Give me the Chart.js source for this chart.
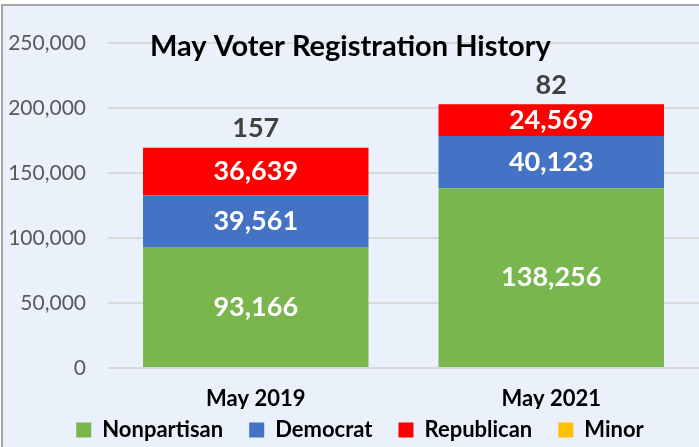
<!DOCTYPE html>
<html>
<head>
<meta charset="utf-8">
<script src="https://cdn.jsdelivr.net/npm/chart.js@4.4.1/dist/chart.umd.min.js"></script>
<style>
    html, body { margin: 0; padding: 0; background: #ffffff; }
    #frame {
        position: absolute; left: 1px; top: 4px;
        width: 696px; height: 443px;
        background: #EAF1FA;
        border-left: 2px solid #A6A6A6;
        border-top: 2px solid #A6A6A6;
    }
    #chart { display: block; }
</style>
</head>
<body>
<div id="frame"><canvas id="chart" width="696" height="441"></canvas></div>
<script>
// Données du graphique
const categories = ['May 2019', 'May 2021'];
const nonpartisan = [93166, 138256];
const democrat = [39561, 40123];
const republican = [36639, 24569];
const minor = [157, 82];
const yTicks = [0, 50000, 100000, 150000, 200000, 250000];

const FONT = 'Lato, "Open Sans", sans-serif';

// Étiquettes de valeurs dans / au-dessus des barres
const valueLabels = {
    id: 'valueLabels',
    afterDatasetsDraw(chart) {
        const ctx = chart.ctx;
        ctx.save();
        ctx.textAlign = 'center';
        ctx.textBaseline = 'middle';
        chart.data.datasets.forEach((ds, i) => {
            const meta = chart.getDatasetMeta(i);
            meta.data.forEach((bar, j) => {
                const text = ds.data[j].toLocaleString('en-US');
                ctx.font = 'bold 27px ' + FONT;
                if (ds.label === 'Minor') {
                    ctx.fillStyle = '#404040';
                    ctx.fillText(text, bar.x, bar.y - 19);
                } else {
                    ctx.fillStyle = '#ffffff';
                    ctx.fillText(text, bar.x, (bar.y + bar.base) / 2);
                }
            });
        });
        ctx.restore();
    }
};

// Titre dessiné dans la zone du graphique
const innerTitle = {
    id: 'innerTitle',
    afterDraw(chart) {
        const ctx = chart.ctx;
        ctx.save();
        ctx.font = 'bold 29px ' + FONT;
        ctx.fillStyle = '#000000';
        ctx.textAlign = 'left';
        ctx.textBaseline = 'middle';
        ctx.fillText('May Voter Registration History', 147, 41);
        ctx.restore();
    }
};

// Décaler la légende un peu vers la droite
const legendShift = {
    id: 'legendShift',
    afterLayout(chart) {
        if (chart.legend) {
            chart.legend.left += 9;
            chart.legend.right += 9;
        }
    }
};

const ctx = document.getElementById('chart').getContext('2d');
new Chart(ctx, {
    type: 'bar',
    data: {
        labels: categories,
        datasets: [
            { label: 'Nonpartisan', data: nonpartisan, backgroundColor: '#7AB64E' },
            { label: 'Democrat', data: democrat, backgroundColor: '#4472C4' },
            { label: 'Republican', data: republican, backgroundColor: '#FF0000' },
            { label: 'Minor', data: minor, backgroundColor: '#FFC000' }
        ]
    },
    options: {
        responsive: false,
        animation: false,
        datasets: {
            bar: { categoryPercentage: 1, barPercentage: 0.763 }
        },
        layout: { padding: { top: 37, right: 0, left: 0, bottom: -4 } },
        scales: {
            x: {
                stacked: true,
                grid: { display: false },
                border: { display: false },
                afterFit(axis) { axis.height = 41; },
                ticks: {
                    color: '#000000',
                    font: { family: FONT, size: 22, weight: 'bold', lineHeight: 1 },
                    padding: 12
                }
            },
            y: {
                stacked: true,
                min: 0,
                max: 250000,
                afterBuildTicks(axis) {
                    axis.ticks = yTicks.map(v => ({ value: v }));
                },
                afterFit(axis) { axis.width = 105; },
                grid: { color: '#D9D9D9', lineWidth: 2, drawTicks: false },
                border: { display: false },
                ticks: {
                    color: '#595959',
                    font: { family: FONT, size: 21 },
                    padding: 22,
                    callback: v => v.toLocaleString('en-US')
                }
            }
        },
        plugins: {
            title: { display: false },
            tooltip: { enabled: false },
            legend: {
                position: 'bottom',
                labels: {
                    color: '#000000',
                    font: { family: FONT, size: 22, weight: 'bold' },
                    boxWidth: 15,
                    boxHeight: 15,
                    padding: 10,
                    generateLabels(chart) {
                        const items = Chart.defaults.plugins.legend.labels.generateLabels(chart);
                        // espace supplémentaire entre les entrées
                        items.forEach((it, k) => {
                            if (k < items.length - 1) it.text = it.text + '   ';
                        });
                        return items;
                    }
                }
            }
        }
    },
    plugins: [valueLabels, innerTitle, legendShift]
});
</script>
</body>
</html>
